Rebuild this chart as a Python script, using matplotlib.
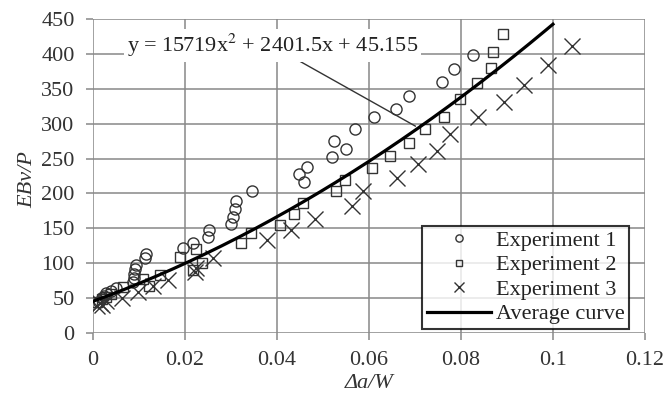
import matplotlib.pyplot as plt
import numpy as np

plt.rcParams['font.family'] = ['Liberation Serif', 'DejaVu Serif']
plt.rcParams['mathtext.fontset'] = 'stix'

# Experiment 1 (circles)
exp1_x = [0.0015, 0.002, 0.0025, 0.003, 0.004, 0.005, 0.0088, 0.009, 0.0091, 0.0093,
          0.0095, 0.0113, 0.0116, 0.0196, 0.0218, 0.025, 0.0253, 0.030, 0.0305, 0.031,
          0.0312, 0.0347, 0.0449, 0.046, 0.0466, 0.052, 0.0525, 0.055, 0.057, 0.0611,
          0.066, 0.0688, 0.0759, 0.0784, 0.0827]
exp1_y = [45, 50, 53, 57, 60, 65, 73, 79, 85, 91,
          98, 107, 113, 122, 129, 137, 148, 156, 166, 178,
          189, 203, 228, 216, 238, 252, 275, 264, 292, 309,
          321, 340, 360, 378, 398]

# Experiment 2 (squares)
exp2_x = [0.001, 0.002, 0.003, 0.004, 0.0066, 0.011, 0.0123, 0.0146, 0.019, 0.0218,
          0.0225, 0.0237, 0.0322, 0.0344, 0.0407, 0.0438, 0.0457, 0.0529, 0.0549, 0.0607,
          0.0646, 0.0688, 0.0723, 0.0764, 0.0799, 0.0836, 0.0866, 0.087, 0.0892]
exp2_y = [44, 48, 52, 56, 66, 77, 67, 83, 109, 90,
          120, 100, 129, 143, 155, 170, 186, 203, 219, 236,
          254, 272, 292, 310, 335, 358, 380, 403, 428]

# Experiment 3 (crosses)
exp3_x = [0.001, 0.0016, 0.002, 0.003, 0.0064, 0.0099, 0.0131, 0.0164, 0.0223, 0.0225,
          0.0262, 0.0379, 0.0431, 0.0484, 0.0564, 0.0588, 0.0661, 0.0707, 0.0749, 0.0777,
          0.0838, 0.0894, 0.0938, 0.099, 0.1042]
exp3_y = [38, 43, 40, 46, 50, 59, 67, 76, 87, 93,
          107, 133, 148, 163, 182, 204, 222, 242, 261, 285,
          309, 331, 355, 384, 411]

# Average curve: y = 15719x^2 + 2401.5x + 45.155
coef = [15719, 2401.5, 45.155]
xc = np.linspace(0, 0.1, 200)
yc = np.polyval(coef, xc)

fig = plt.figure(figsize=(6.66, 3.95), dpi=100)
ax = fig.add_axes([0.139, 0.157, 0.8295, 0.795])

mk = dict(linestyle='none', markerfacecolor='none', markeredgecolor='#333333', markeredgewidth=1.0)
ax.plot(exp1_x, exp1_y, marker='o', markersize=8, label='Experiment 1', **mk)
ax.plot(exp2_x, exp2_y, marker='s', markersize=7.5, label='Experiment 2', **mk)
ax.plot(exp3_x, exp3_y, marker='x', markersize=11, label='Experiment 3', **mk)
ax.plot(xc, yc, color='black', lw=2.3, label='Average curve')

ax.set_xlim(0, 0.12)
ax.set_ylim(0, 450)
ax.set_xticks([0, 0.02, 0.04, 0.06, 0.08, 0.1, 0.12])
ax.set_xticklabels(['0', '0.02', '0.04', '0.06', '0.08', '0.1', '0.12'])
ax.set_yticks(np.arange(0, 451, 50))
ax.grid(True, color='#888888', lw=1.1)
ax.set_axisbelow(True)
for s in ax.spines.values():
    s.set_visible(False)
ax.tick_params(axis='both', labelsize=16, labelcolor='#333333', color='#888888',
               length=5, width=1.1, pad=8)

ax.set_xlabel('Δa/W', fontsize=16, style='italic', color='#333333')
ax.xaxis.set_label_coords(0.5, -0.162)
ax.xaxis.label.set_verticalalignment('center')
ax.set_ylabel('EBv/P', fontsize=16, style='italic', color='#333333')
ax.yaxis.set_label_coords(-0.118, 0.49)
ax.yaxis.label.set_verticalalignment('center')

# trendline equation with leader line
x0 = 0.0701
ax.plot([0.0435, x0], [395, 296.5], color='#333333', lw=1)
ax.text(0.00746, 412, 'y = 15719x$^2$ + 2401.5x + 45.155', fontsize=16, va='center', ha='left',
        color='#222222', bbox=dict(facecolor='white', edgecolor='none', pad=2))

leg = ax.legend(loc='lower right', bbox_to_anchor=(0.971, 0.013), borderaxespad=0,
                fontsize=16, frameon=True, fancybox=False, markerscale=0.65,
                labelspacing=0.18, handletextpad=0.2, handlelength=2.9, borderpad=0.2)
leg.get_frame().set_edgecolor('black')
leg.get_frame().set_linewidth(1.5)
for t in leg.get_texts():
    t.set_color('#222222')

plt.savefig('out.png', dpi=100)
